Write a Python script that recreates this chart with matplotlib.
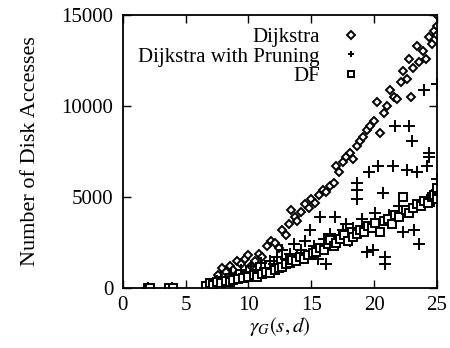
import matplotlib
matplotlib.use("Agg")
import matplotlib.pyplot as plt

plt.rcParams['font.family'] = ['Liberation Serif', 'DejaVu Serif']
plt.rcParams['mathtext.fontset'] = 'stix'

# gamma_G(s,d) vs number of disk accesses
dijkstra_x = [2.0, 2.1, 3.8, 4.0, 6.6, 7.0, 7.3, 7.6, 7.9, 8.2, 8.5, 8.8, 9.1, 9.4, 9.7,
              10.0, 10.2, 10.5, 10.8, 11.1, 11.5, 11.8, 12.1, 12.4, 12.7, 13.0, 13.2, 13.4,
              13.7, 13.9, 14.2, 14.5, 14.8, 15.0, 15.3, 15.6, 15.9, 16.2, 16.5, 16.8, 17.0,
              17.2, 17.5, 17.8, 18.1, 18.3, 18.6, 18.9, 19.1, 19.4, 19.7, 20.0, 20.2, 20.5,
              20.8, 21.0, 21.3, 21.6, 21.8, 22.1, 22.3, 22.6, 22.8, 22.9, 23.1, 23.4, 23.6,
              23.9, 24.1, 24.4, 24.6, 24.8, 25.0, 25.0, 25.0]
dijkstra_y = [0, 20, 0, 30, 150, 300, 400, 700, 1100, 900, 1200, 1000, 1500, 1300, 1600,
              1800, 1200, 1500, 1900, 1700, 2300, 2600, 2500, 2200, 3200, 2900, 3500, 4300,
              3900, 3700, 4200, 4600, 4400, 4900, 4700, 5100, 5400, 5300, 5600, 5800, 6700,
              6400, 6900, 7200, 7400, 7100, 7800, 8100, 8300, 8700, 8900, 9200, 10200, 8500,
              9600, 10000, 10900, 10500, 10400, 11300, 11900, 11500, 12600, 10500, 12100, 13300, 12400,
              13000, 12600, 13800, 13400, 14100, 14400, 15000, 13900]

pruning_x = [2.0, 3.9, 6.7, 7.1, 7.5, 7.8, 8.2, 8.6, 9.0, 9.4, 9.8, 10.2, 10.6, 11.0, 11.3,
             11.7, 12.0, 12.3, 12.7, 13.0, 13.3, 13.6, 13.9, 14.2, 14.5, 14.9, 15.2, 15.5,
             15.7, 16.0, 16.2, 16.5, 16.9, 17.2, 17.5, 17.8, 18.1, 18.3, 18.6, 18.6, 18.6,
             19.0, 19.4, 19.6, 19.9, 20.1, 20.3, 20.7, 20.9, 20.9, 21.2, 21.5, 21.7, 22.0,
             22.3, 22.6, 22.8, 23.0, 23.2, 23.4, 23.6, 23.8, 24.0, 24.2, 24.4, 24.4, 24.6,
             24.8, 25.0, 25.0]
pruning_y = [0, 0, 100, 250, 400, 600, 500, 800, 600, 1000, 900, 1200, 1000, 1400, 1100,
             1500, 1300, 1700, 2100, 1600, 1900, 2400, 1700, 2100, 2600, 3200, 2300, 1600,
             3900, 2700, 1300, 3000, 3900, 2900, 3200, 3500, 2600, 3300, 4900, 5800, 5400,
             3800, 2000, 6400, 2100, 4100, 6700, 5200, 1700, 1300, 4000, 6700, 8900, 4500,
             3100, 6500, 8900, 8100, 3200, 6400, 2400, 4700, 10900, 6700, 7200, 7400, 5100,
             4800, 11200, 6000]

df_x = [2.0, 2.2, 3.7, 4.0, 6.6, 6.9, 7.2, 7.5, 7.8, 8.2, 8.5, 8.8, 9.2, 9.6, 10.0, 10.4,
        10.7, 11.1, 11.4, 11.7, 12.1, 12.4, 12.7, 13.0, 13.3, 13.5, 13.8, 14.1, 14.4, 14.7,
        15.1, 15.4, 15.7, 16.0, 16.3, 16.5, 16.8, 17.0, 17.3, 17.6, 17.9, 18.3, 18.6, 18.9,
        19.2, 19.5, 19.8, 20.1, 20.5, 20.8, 21.1, 21.4, 21.7, 22.0, 22.3, 22.5, 22.8, 23.1,
        23.4, 23.7, 24.0, 24.3, 24.6, 24.8, 25.0, 25.0, 25.0]
df_y = [0, 0, 0, 0, 100, 300, 200, 350, 300, 400, 330, 450, 500, 550, 600, 700,
        610, 800, 900, 830, 1000, 1100, 1160, 1300, 1400, 1540, 1500, 1700, 1600, 1800,
        1930, 2000, 2200, 2100, 2400, 2650, 2300, 2480, 2700, 2900, 2600, 2810, 3000, 3200,
        3100, 3400, 3300, 3600, 3090, 3700, 3800, 3500, 4000, 3900, 5020, 4300, 4140, 4400,
        4600, 4500, 4800, 4700, 5000, 5100, 5020, 5500, 4900]

fig = plt.figure(figsize=(4.5, 3.48), dpi=100)
ax = fig.add_axes([0.273, 0.172, 0.698, 0.785])

ax.plot(dijkstra_x, dijkstra_y, linestyle='none', marker='D', markersize=4.5,
        markerfacecolor='white', markeredgecolor='black', markeredgewidth=1.4, label='Dijkstra')
ax.plot(pruning_x, pruning_y, linestyle='none', marker='+', markersize=8,
        color='black', markeredgewidth=1.4, label='Dijkstra with Pruning')
ax.plot(df_x, df_y, linestyle='none', marker='s', markersize=6,
        markerfacecolor='white', markeredgecolor='black', markeredgewidth=1.4, label='DF')

ax.set_xlim(0, 25)
ax.set_ylim(0, 15000)
ax.set_xticks([0, 5, 10, 15, 20, 25])
ax.set_yticks([0, 5000, 10000, 15000])
ax.tick_params(direction='in', length=6, width=1, top=True, right=True, labelsize=15, pad=7)
ax.tick_params(axis='x', pad=6)
for s in ax.spines.values():
    s.set_linewidth(1.3)

ax.set_xlabel(r'$\gamma_G(s,d)$', fontsize=15, labelpad=0)
ax.set_ylabel('Number of Disk Accesses', fontsize=16, labelpad=15)

leg = ax.legend(loc='upper right', bbox_to_anchor=(0.78, 0.985), frameon=False, markerfirst=False,
                fontsize=15, handlelength=0.8, handletextpad=1.1, labelspacing=0.0, borderaxespad=0)
for h in leg.legend_handles:
    h.set_markersize(4.5)

fig.savefig('out.png', dpi=100)
